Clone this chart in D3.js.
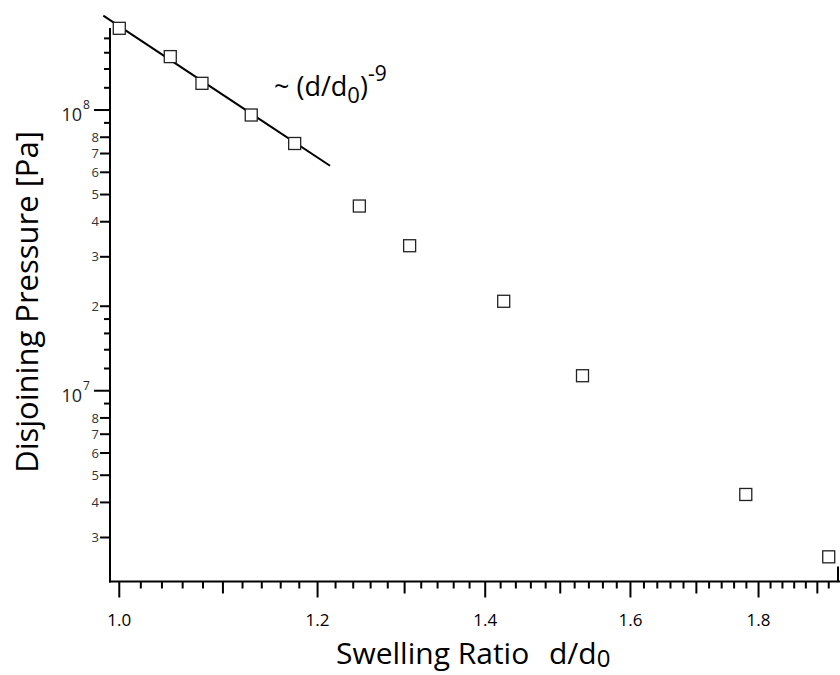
<!DOCTYPE html>
<html lang="en">
<head>
    <meta charset="UTF-8">
    <title>Disjoining Pressure vs Swelling Ratio</title>
    <script src="https://cdn.jsdelivr.net/npm/d3@7"></script>
    <style>
        body { margin: 0; background: #fff; }
        svg { display: block; font-family: "Open Sans", "Noto Sans", sans-serif; }
        .axis line { stroke: #000; stroke-width: 2px; }
        .ylab { font-size: 13px; fill: #333; }
        .point { fill: #fff; stroke: #222; stroke-width: 1.3px; }
        .fit { stroke: #000; stroke-width: 2px; fill: none; }
    </style>
</head>
<body>
    <svg width="840" height="675"></svg>

    <script>
        // data
        const ratio = [1.000, 1.048, 1.079, 1.129, 1.175, 1.247, 1.306, 1.424, 1.531, 1.779, 1.920];
        const pressure = [1.955e8, 1.55e8, 1.245e8, 9.6e7, 7.6e7, 4.55e7, 3.285e7, 2.083e7, 1.131e7, 4.27e6, 2.56e6];

        // fitted power law line, end points
        const fitRatio = [0.9854, 1.2138];
        const fitPressure = [2.17e8, 6.33e7];

        // tick values
        const xMajor = [1.0, 1.2, 1.4, 1.6, 1.8];
        const xMedium = [1.1, 1.3, 1.5, 1.7, 1.9];
        const yDecades = [1e7, 1e8];
        const yLabeled = [3e6, 4e6, 5e6, 6e6, 7e6, 8e6, 2e7, 3e7, 4e7, 5e7, 6e7, 7e7, 8e7];
        const yMinor = [9e6, 1.2e7, 1.4e7, 1.6e7, 1.8e7, 9e7, 1.2e8, 1.4e8, 1.6e8, 1.8e8];

        const svg = d3.select("svg");

        const x = d3.scaleLog().domain([0.9915, 1.940]).range([110, 840]);
        const y = d3.scaleLog().domain([2.091e6, 1.960e8]).range([581.5, 28]);

        const x0 = x.range()[0], y0 = y.range()[0];

        // minor x ticks every 0.02
        const xMinor = d3.range(50, 97).map(i => i * 0.02).filter(v => v <= x.domain()[1]);

        const axes = svg.append("g").attr("class", "axis");

        // x ticks
        axes.selectAll(".xt")
            .data(xMinor)
            .enter().append("line")
            .attr("x1", d => x(d)).attr("x2", d => x(d))
            .attr("y1", y0)
            .attr("y2", d => {
                if (xMajor.some(v => Math.abs(v - d) < 1e-6)) return y0 + 16;
                if (xMedium.some(v => Math.abs(v - d) < 1e-6)) return y0 + 12;
                return y0 + 7;
            });

        svg.append("g").selectAll("text")
            .data(xMajor)
            .enter().append("text")
            .attr("x", d => x(d))
            .attr("y", y0 + 44)
            .attr("text-anchor", "middle")
            .style("font-size", "17px")
            .text(d => d.toFixed(1));

        // y ticks
        axes.selectAll(".ymin")
            .data(yMinor)
            .enter().append("line")
            .attr("x1", x0 - 6).attr("x2", x0)
            .attr("y1", d => y(d)).attr("y2", d => y(d));

        axes.selectAll(".ylab")
            .data(yLabeled)
            .enter().append("line")
            .attr("x1", x0 - 10).attr("x2", x0)
            .attr("y1", d => y(d)).attr("y2", d => y(d));

        axes.selectAll(".ydec")
            .data(yDecades)
            .enter().append("line")
            .attr("x1", x0 - 16).attr("x2", x0)
            .attr("y1", d => y(d)).attr("y2", d => y(d));

        svg.append("g").selectAll("text")
            .data(yLabeled)
            .enter().append("text")
            .attr("class", "ylab")
            .attr("x", x0 - 11)
            .attr("y", d => y(d))
            .attr("dy", "0.36em")
            .attr("text-anchor", "end")
            .text(d => Math.round(d / Math.pow(10, Math.floor(Math.log10(d)))));

        const dec = svg.append("g").selectAll("g")
            .data(yDecades)
            .enter().append("g")
            .attr("transform", d => `translate(0,${y(d)})`);
        dec.append("text")
            .attr("x", x0 - 28).attr("y", 11)
            .attr("text-anchor", "end")
            .style("font-size", "18px")
            .style("fill", "#222")
            .text("10");
        dec.append("text")
            .attr("x", x0 - 27).attr("y", -1)
            .style("font-size", "12px")
            .style("fill", "#222")
            .text(d => Math.round(Math.log10(d)));

        // axis lines
        axes.append("line")
            .attr("x1", x0).attr("x2", x0)
            .attr("y1", y.range()[1]).attr("y2", y0 + 1);
        axes.append("line")
            .attr("x1", x0 - 1).attr("x2", x.range()[1])
            .attr("y1", y0).attr("y2", y0);
        axes.append("line")
            .attr("x1", x.range()[1] - 2).attr("x2", x.range()[1] - 2)
            .attr("y1", y0 - 15).attr("y2", y0);

        // fit line
        svg.append("line")
            .attr("class", "fit")
            .attr("x1", x(fitRatio[0])).attr("y1", y(fitPressure[0]))
            .attr("x2", x(fitRatio[1])).attr("y2", y(fitPressure[1]));

        // data points
        const s = 12;
        svg.append("g").selectAll("rect")
            .data(ratio)
            .enter().append("rect")
            .attr("class", "point")
            .attr("x", (d, i) => x(d) - s / 2)
            .attr("y", (d, i) => y(pressure[i]) - s / 2)
            .attr("width", s).attr("height", s);

        // annotation
        const ann = svg.append("text")
            .attr("x", 274).attr("y", 96)
            .style("font-size", "27px");
        ann.append("tspan").text("~ (d/d");
        ann.append("tspan").attr("dy", 7).style("font-size", "22px").text("0");
        ann.append("tspan").attr("dy", -7).text(")");
        ann.append("tspan").attr("dy", -15).style("font-size", "21px").text("-9");

        // axis titles
        const xt = svg.append("text")
            .attr("x", 336).attr("y", 664)
            .style("font-size", "30px");
        xt.append("tspan").text("Swelling Ratio");
        xt.append("tspan").attr("x", 549).text("d/d");
        xt.append("tspan").attr("dy", 3).style("font-size", "24px").text("0");

        svg.append("text")
            .attr("transform", "translate(38,302) rotate(-90)")
            .attr("text-anchor", "middle")
            .style("font-size", "31px")
            .text("Disjoining Pressure [Pa]");
    </script>
</body>
</html>
